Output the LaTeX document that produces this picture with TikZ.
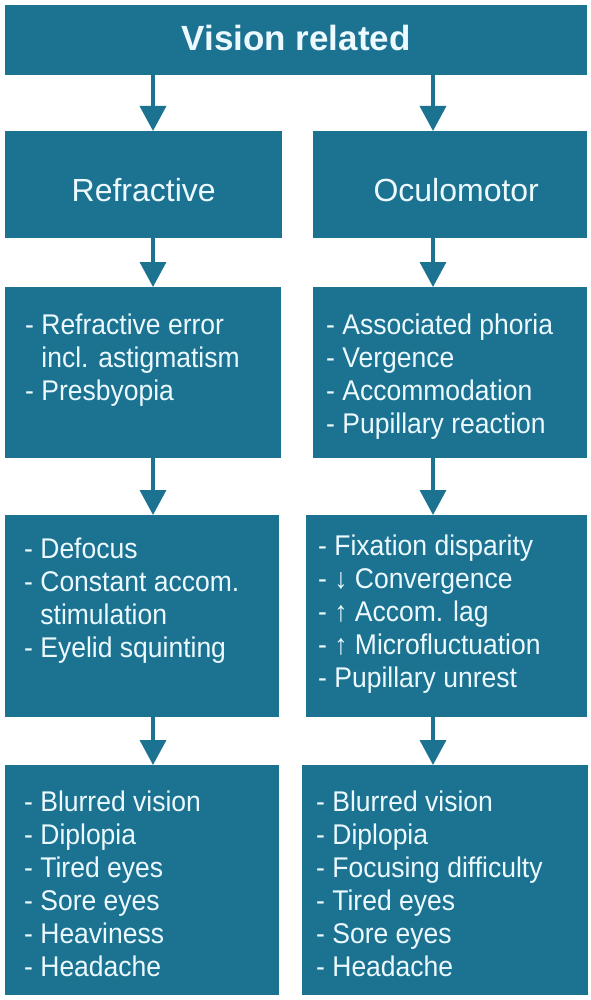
\documentclass[tikz,border=0pt]{standalone}
\usepackage{fontspec}
\setmainfont{Liberation Sans}
\newfontfamily\listfont[FakeStretch=0.93]{Liberation Sans}
\usetikzlibrary{arrows.meta,calc}
\definecolor{tealbox}{RGB}{27,114,145}
\definecolor{boxtext}{RGB}{236,250,255}
\begin{document}
\begin{tikzpicture}[x=1pt,y=-1pt,
  box/.style={fill=tealbox, draw=none, anchor=north west, inner sep=0pt},
  hdr/.style={text=boxtext, font=\fontsize{32}{38}\selectfont, anchor=base, inner sep=0pt},
  title/.style={text=boxtext, font=\fontsize{35}{40}\selectfont\bfseries, anchor=base, inner sep=0pt},
  lst/.style={text=boxtext, anchor=base west, inner sep=0pt, font=\listfont\fontsize{28.5}{33}\selectfont},
  arr/.style={draw=tealbox, line width=3.5pt, -{Triangle[length=25pt,width=26pt]}}]
\useasboundingbox[fill=white] (0,0) rectangle (590,1000);

% column axes for the arrows
\coordinate (la) at (153,0);
\coordinate (ra) at (433,0);

% boxes
\node[box, minimum width=582pt, minimum height=70pt] (top) at (5,5) {};
\node[box, minimum width=277pt, minimum height=107pt] (r2l) at (5,131) {};
\node[box, minimum width=274pt, minimum height=107pt] (r2r) at (313,131) {};
\node[box, minimum width=276pt, minimum height=171pt] (r3l) at (5,287) {};
\node[box, minimum width=274pt, minimum height=171pt] (r3r) at (313,287) {};
\node[box, minimum width=274pt, minimum height=202pt] (r4l) at (5,515) {};
\node[box, minimum width=281pt, minimum height=202pt] (r4r) at (306,515) {};
\node[box, minimum width=274pt, minimum height=230pt] (r5l) at (5,765) {};
\node[box, minimum width=286pt, minimum height=230pt] (r5r) at (302,765) {};

% headings
\node[title] (ttop) at ([yshift=-46pt]top.north) {Vision related};
\node[hdr] (t2l) at ([yshift=-71pt]r2l.north) {Refractive};
\node[hdr] (t2r) at ([yshift=-71pt,xshift=6pt]r2r.north) {Oculomotor};

% lists
\node[lst] (l3l) at (25,334) {\begin{tabular}[t]{@{}l@{\ }l@{}}-&Refractive error\\&incl. astigmatism\\-&Presbyopia\end{tabular}};
\node[lst] (l3r) at (326,334) {\begin{tabular}[t]{@{}l@{\ }l@{}}-&Associated phoria\\-&Vergence\\-&Accommodation\\-&Pupillary reaction\end{tabular}};
\node[lst] (l4l) at (24,558) {\begin{tabular}[t]{@{}l@{\ }l@{}}-&Defocus\\-&Constant accom.\\&stimulation\\-&Eyelid squinting\end{tabular}};
\node[lst] (l4r) at (318,555) {\begin{tabular}[t]{@{}l@{\ }l@{}}-&Fixation disparity\\-&↓ Convergence\\-&↑ Accom. lag\\-&↑ Microfluctuation\\-&Pupillary unrest\end{tabular}};
\node[lst] (l5l) at (24,811) {\begin{tabular}[t]{@{}l@{\ }l@{}}-&Blurred vision\\-&Diplopia\\-&Tired eyes\\-&Sore eyes\\-&Heaviness\\-&Headache\end{tabular}};
\node[lst] (l5r) at (316,811) {\begin{tabular}[t]{@{}l@{\ }l@{}}-&Blurred vision\\-&Diplopia\\-&Focusing difficulty\\-&Tired eyes\\-&Sore eyes\\-&Headache\end{tabular}};

% arrows
\draw[arr] (top.south -| la) -- (r2l.north -| la);
\draw[arr] (top.south -| ra) -- (r2r.north -| ra);
\draw[arr] (r2l.south -| la) -- (r3l.north -| la);
\draw[arr] (r2r.south -| ra) -- (r3r.north -| ra);
\draw[arr] (r3l.south -| la) -- (r4l.north -| la);
\draw[arr] (r3r.south -| ra) -- (r4r.north -| ra);
\draw[arr] (r4l.south -| la) -- (r5l.north -| la);
\draw[arr] (r4r.south -| ra) -- (r5r.north -| ra);
\end{tikzpicture}
\end{document}
